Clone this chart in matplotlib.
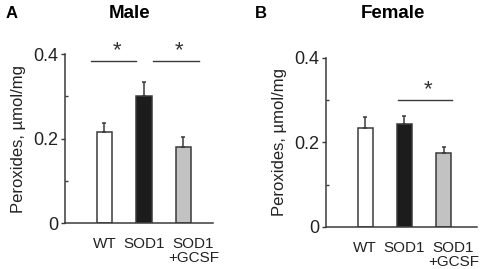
import matplotlib
matplotlib.use('Agg')
import matplotlib.pyplot as plt
from matplotlib.ticker import MultipleLocator

plt.rcParams['font.family'] = ['Liberation Sans', 'DejaVu Sans']

# data
groups = ['WT', 'SOD1', 'SOD1\n+GCSF']
male_mean = [0.215, 0.300, 0.180]
male_err = [0.021, 0.035, 0.024]
female_mean = [0.233, 0.243, 0.174]
female_err = [0.026, 0.020, 0.015]
bar_colors = ['white', '#1c1c1c', '#c2c2c2']

# significance brackets: (x start, x end, y)
male_sig = [(-0.34, 0.8, 0.384), (1.23, 2.39, 0.384)]
female_sig = [(0.83, 2.22, 0.30)]

EDGE = '#3a3a3a'


def draw_panel(ax, means, errs, sigs, xmax):
    x = list(range(len(means)))
    ax.bar(x, means, width=0.39, color=bar_colors, edgecolor=EDGE, linewidth=1.1, zorder=2)
    ax.errorbar(x, means, yerr=[[0] * len(errs), errs], fmt='none',
                ecolor=EDGE, elinewidth=1.1, capsize=1.6, capthick=1.1, zorder=3)

    for x0, x1, y in sigs:
        ax.plot([x0, x1], [y, y], color=EDGE, lw=1.0, clip_on=False)
        ax.text((x0 + x1) / 2 + 0.08, y + 0.0, '*', ha='center', va='bottom',
                fontsize=16, color='#333333')

    ax.set_xlim(-1, xmax)
    ax.set_ylim(0, 0.4)
    ax.set_yticks([0, 0.2, 0.4])
    ax.set_yticklabels(['0', '0.2', '0.4'])
    ax.yaxis.set_minor_locator(MultipleLocator(0.1))
    ax.tick_params(axis='y', which='major', direction='out', length=3, width=1,
                   color=EDGE, labelsize=13, pad=2, labelcolor='#222222')
    ax.tick_params(axis='y', which='minor', direction='in', length=2, width=1, color=EDGE)

    ax.set_xticks([0, 1, 2.25])
    ax.set_xticklabels(groups, fontsize=11, linespacing=1.05, color='#222222')
    ax.tick_params(axis='x', length=0, pad=10)

    for s in ['top', 'right']:
        ax.spines[s].set_visible(False)
    for s in ['left', 'bottom']:
        ax.spines[s].set_color(EDGE)
        ax.spines[s].set_linewidth(1.1)

    ax.set_ylabel('Peroxides, µmol/mg', fontsize=12, labelpad=5, color='#222222')


fig = plt.figure(figsize=(4.9, 2.69), dpi=100, facecolor='white')
ax1 = fig.add_axes([0.1327, 0.171, 0.302, 0.628])
ax2 = fig.add_axes([0.6653, 0.157, 0.308, 0.628])

draw_panel(ax1, male_mean, male_err, male_sig, 2.75)
draw_panel(ax2, female_mean, female_err, female_sig, 2.85)

fig.text(130 / 490, 1 - 13 / 269, 'Male', ha='center', va='center', fontsize=13.5, fontweight='bold')
fig.text(12 / 490, 1 - 13 / 269, 'A', ha='center', va='center', fontsize=12, fontweight='bold')
fig.text(393 / 490, 1 - 13 / 269, 'Female', ha='center', va='center', fontsize=13.5, fontweight='bold')
fig.text(261 / 490, 1 - 13 / 269, 'B', ha='center', va='center', fontsize=12, fontweight='bold')

fig.savefig('out.png', dpi=100, facecolor='white')
